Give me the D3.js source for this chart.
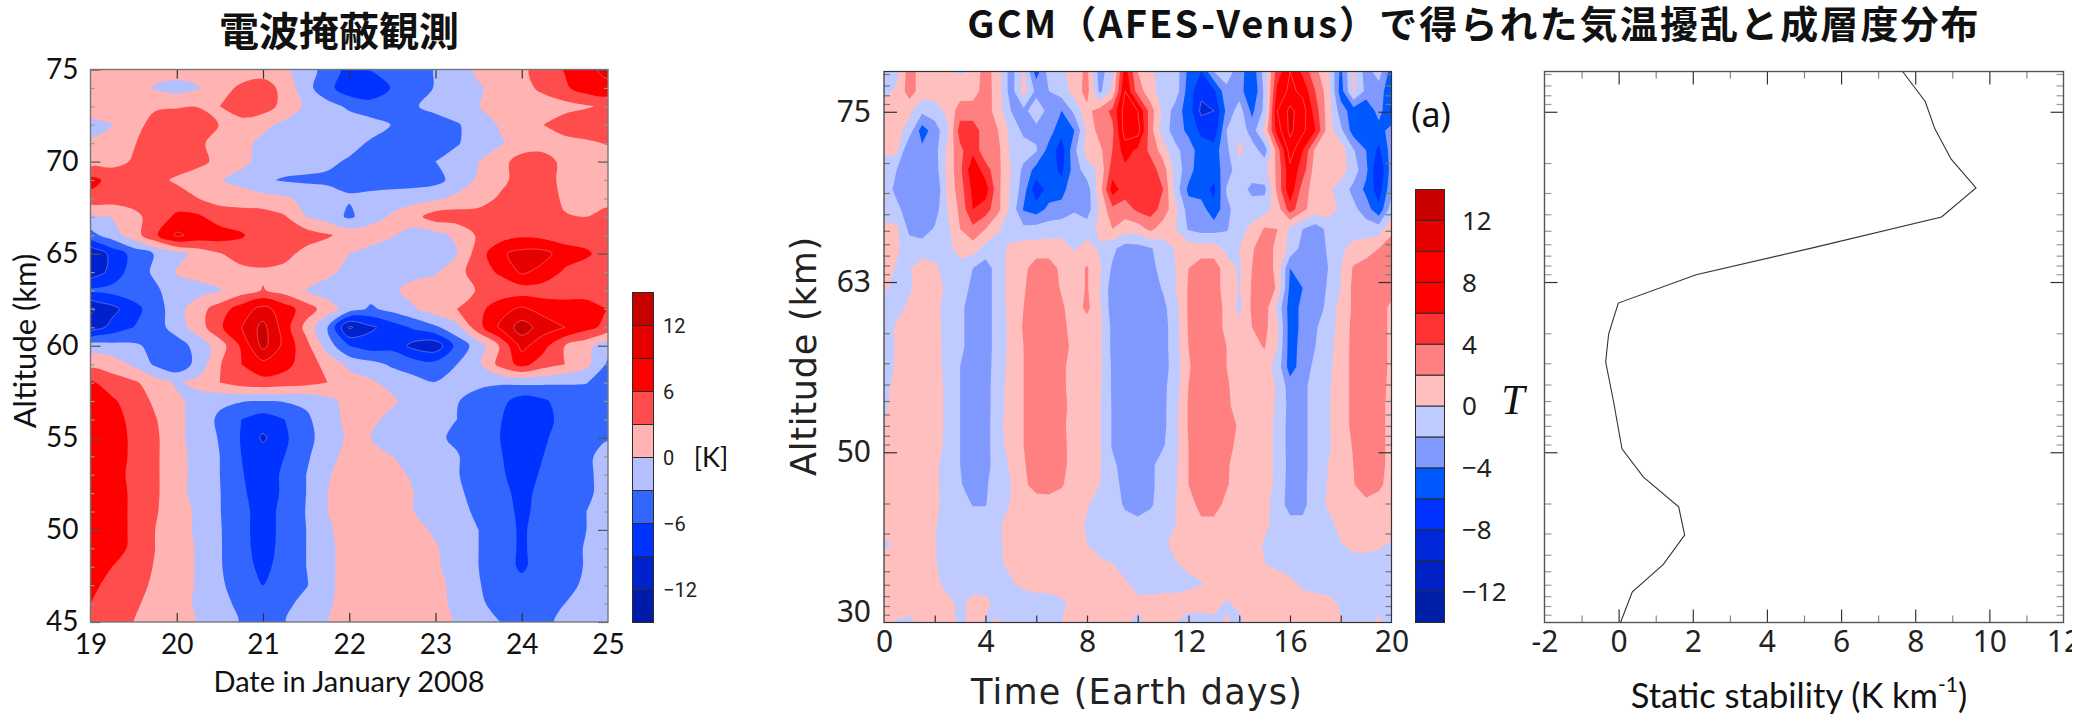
<!DOCTYPE html>
<html>
<head>
<meta charset="utf-8">
<title>Venus temperature disturbance</title>
<script src="https://d3js.org/d3.v7.min.js"></script>
<style>
  html, body { margin: 0; padding: 0; background: #fff; }
  svg { display: block; }
</style>
</head>
<body>
<svg id="chart" width="2094" height="714"></svg>
<script>
// Radio occultation panel: temperature (K), one row per km from 75 down to 45, one column per 6 hours
const obsAltitudes = d3.range(75, 44, -1);
const obsDates = d3.range(19, 25.01, 0.25);
const obsGrid = [
  [1.5,1.5,1.5,1.5,1.5,1.5,1.5,1.5,1.5,0.5,-1.5,-4.5,-7,-5.8,-4.5,-3.8,-2.9,-1.5,0.6,1.5,2.5,4,6.2,8,10],
  [1.5,2,1.5,-0.3,-1.2,-0.2,2,3.5,4.5,2,-2,-5,-8,-8.5,-5.7,-4.5,-2.8,-1.5,-0.3,1,2,3.7,5.5,7.5,8],
  [1.5,1.5,2.5,2.7,2.8,2.9,3,4.5,4.5,2,-0.5,-2,-3.5,-4.5,-4.2,-3.3,-2,-1,0,1,1.5,1.5,2,2.7,3.6],
  [-1,0,2.2,3.8,4.5,4.5,2.9,2,0.8,-0.7,-1.5,-1.5,-1.5,-2,-3.1,-4.5,-4.5,-3.3,-1.5,0.3,1.5,3,4.5,5,5],
  [0.3,1.5,2.8,4.5,4.8,3.5,2,1,-0.8,-1.5,-1.5,-1.5,-2.2,-3.3,-4.5,-5,-5,-3.2,-1.8,-0.3,1,1.5,2,2.5,3.2],
  [1.5,2,3.3,4.5,4.8,4,2,0.7,-1,-1.5,-1.8,-2.5,-3.3,-4.5,-4.5,-4.5,-3,-2,0,1.8,4.5,4.5,2,1.5,1.5],
  [7,5,4.5,4,2.5,1,0.2,-1,-2.5,-3.3,-3.5,-3.5,-3.5,-4.5,-4.5,-4.5,-4,-1.8,0.5,2,4.5,4.5,2,1.5,1.5],
  [5,4.5,4.5,4.5,4.5,3,2,1.5,1,0.5,-0.8,-1.8,-2.8,-2,-1.5,-1,-0.5,0.8,1.5,3.5,4.5,4.5,2.5,2,2],
  [-1,0,2,4.5,6.5,6.5,4.5,4.5,4.5,3.3,0,-1.5,-3.5,-1.5,0.5,2,4.5,4.5,4.5,4.5,4,3.5,3.2,3,4],
  [-4,-1.5,1.5,5.5,9.5,8,7.5,6.3,4.5,4.5,4.5,3.3,2,2,0.2,-1.5,-1,0.7,3.5,4.5,5.5,5,4.5,4.5,4.5],
  [-12,-8,-5,-2.8,-1,1,2.8,4.5,4.5,4,2,1.5,0,-1.5,-1.5,-1.5,-1,0,4.5,8.5,10,10,7.5,6.5,4.5],
  [-11,-8,-4.5,-2.5,0.3,1.2,1.5,2,2.5,2,1.5,0.7,-1,-1.5,-1,-0.8,-0.3,2,4.5,6.5,9.5,8,5.5,4.5,4],
  [-5.5,-5,-4.5,-3.5,-1.5,-1.2,-0.2,1.5,3.2,1.8,0,-1.5,-2.5,-1.5,-0.5,1,1.5,2,3.2,4,4.5,4.5,4.5,4.5,4.5],
  [-12.5,-10,-7,-4.5,-1.2,1.8,4.5,7.5,10,7.5,4.5,1.5,-1.5,-3.5,-2,-0.3,1.5,3,5,8,9.5,8,7.5,7.5,6],
  [-11,-8,-6,-4.5,-1.5,1.5,5.5,9,13,7.5,2,-3,-12.5,-9.5,-7.5,-5.5,-3.5,-1,5,9.5,13.5,10.5,9,7,5],
  [-1.5,-2,-2.5,-3.8,-4.5,-1.8,1.5,6.5,13,8,4,-1.5,-6,-7.5,-7,-10,-11,-5,-1.5,3.3,10,7,3,1,-2],
  [2,1.5,-0.5,-3.5,-5,-2,2.8,6,8,7,4.5,2,-0.8,-2,-3.5,-4.5,-5,-3,-0.5,4,7,4.5,3,0.8,-3.5],
  [6.5,4.5,3.5,1.5,-0.5,1,3,4.5,5,4.5,4,3,1.5,0.5,-1,-2,-2.9,-2,-2.2,-2.7,-2.3,-2.5,-2.8,-2.9,-4.5],
  [7.5,6.5,4.5,2.5,0.8,-1.5,-2.5,-2.8,-3,-2.8,-2.5,-0.8,1,1.5,0.5,-1.5,-2,-2.8,-4.5,-5,-7.5,-6.5,-4.5,-4.5,-4.5],
  [7.5,7,5.3,3.2,1,-1.5,-3.5,-6,-7.5,-6,-3.5,-1.5,1,0.8,-1,-2,-2.5,-3,-4.5,-5.8,-8,-7.5,-4.5,-4.5,-3.3],
  [7.5,7,5.6,3.5,1,-1.5,-3.2,-6.2,-9.5,-6.5,-4,-1.5,0.5,0,-1.5,-2,-2.5,-3.5,-5,-6,-8,-6.5,-4.5,-4.5,-3.2],
  [7.5,7,5.6,3.5,1,-1,-3,-6,-7.5,-6,-3.5,-1,1,1,0,-1.5,-2,-2.8,-4.5,-5.8,-7.5,-6,-4.5,-3.5,-2],
  [7.5,7,5.4,3.5,1,-1,-3,-5.8,-7.5,-5.5,-3,-0.2,1,1.5,1,-0.5,-2,-2.8,-4.5,-5.5,-7.5,-5.5,-4.5,-3.5,-2],
  [7.5,7,5.6,3.5,1,-1,-2.9,-5.5,-7.5,-5.5,-3,0,1.5,1.5,1,0,-1.5,-2.5,-4,-5,-7,-5,-4.5,-3.5,-2],
  [7.5,7,5.6,3.3,1.2,-0.5,-2.9,-5,-7.5,-5,-2.9,0,1.5,1.5,1.5,0,-1.5,-2.2,-3.5,-4.5,-6.8,-4.8,-4.5,-3,-1.5],
  [7.5,7,5.6,3,1.2,-0.5,-2.8,-5,-7.5,-5,-3,-0.5,1.5,1.5,1.5,1,-0.5,-2,-3,-4.5,-6.5,-4.5,-4,-3,-1.5],
  [7.5,7,5.5,3,1.2,-0.3,-2.8,-4.8,-7.5,-4.8,-3,-0.8,1.5,1.5,1.5,1.5,0.3,-1.5,-3,-4.5,-6.5,-4.5,-4,-2.8,-1.5],
  [7.5,6,4.5,2.8,1.2,-0.3,-2.8,-4.5,-7,-4.5,-3,-0.8,1.5,1.5,1.5,1.5,0.5,-1.5,-3,-4.5,-6.5,-4.5,-4,-2.8,-1.5],
  [6.8,5,4,2.5,1.2,-0.3,-2.5,-4.5,-6,-4.5,-3.2,-0.8,1.5,1.5,1.5,1.5,1,-1,-2.8,-4.5,-5,-4.5,-3.8,-2.5,-1.5],
  [6,4.5,3.5,2,1.2,-0.5,-2,-3.8,-4.8,-3.8,-2,-0.5,1.5,1.5,1.5,1.5,1,-0.8,-2.5,-4,-4.5,-4,-3,-2,-1.5],
  [5,4.5,3,2,1.2,-0.2,-1.8,-3.2,-4.5,-3.1,-1.5,-0.1,1.5,1.5,1.5,1.5,1,-0.3,-2,-3,-4.5,-3.5,-2.5,-1.5,-1.5]
];
const obsLevels = d3.range(-15, 15.01, 3);
const obsColors = ['#001aaa','#0022cc','#0033ff','#3366ff','#b3bfff','#ffb3b3','#ff4d4d','#ff0000','#e60000','#c80000'];
const obsColorLabels = [-12, -6, 0, 6, 12];

// GCM panel: temperature (K), columns every half day, rows evenly spaced on the log-pressure axis
const gcmDays = d3.range(0, 20.01, 0.5);
const gcmGrid = [
  [-1,-0.5,3,1,1.2,0.5,-0.3,0.5,3,0.8,-3,0.5,-5,-1,-0.5,1,2.5,-3,-0.5,7,2,0.5,-1,-1,-4.5,-6,-2,-1,-3,-5.5,-1,5,8,5.5,2.5,0.5,-4.5,0.5,-3,-1,-5],
  [-0.5,0.3,3,1,1,1,1,1,3,1,-3,0.8,-2.5,-2,-1,0.8,2.8,-2.5,0.5,8,3,0.8,-1,-1,-5,-7.5,-6.5,-2.5,-3,-6,-1.5,6.5,8.5,7.5,4,1,-5,0.3,-2.5,-3,-5.5],
  [1,1.2,0.5,-1.5,-1,0.5,3,3,3,1,-2,-2.5,-1,-2.5,-4,-1.5,1.5,2.8,4.5,9,8,3,-0.5,-3,-5,-8.5,-8,-3.5,-1,-4.5,-1.5,8,10.5,9,5,1,-3,-5,-6,-3,-6.5],
  [1,0.8,-1,-5,-3,-0.5,5,5,3,2,-0.5,-2.5,-2.5,-3,-5.5,-4,0.5,2.8,3.5,9,9,2.8,-1,-3,-4.5,-6.5,-7.5,-2,-0.5,-3,0.5,7,10.5,8.5,6,1,-1.5,-5,-5,-5,-3],
  [0.5,0.5,-4,-3.5,-2.8,0.5,3.5,5.5,2.5,2.5,-0.5,-1,-1.8,-4.8,-7,-2.5,0.8,1.5,4,7,5.5,3.5,1,-1.5,-3,-5,-5,-2.5,0.5,-1,-3,3,9,6,1.5,1.5,1,-1.8,-4,-6.5,-3],
  [-1,-2,-3,-3,-3,0.5,3.5,7.5,5,2.5,0,-2.5,-4.8,-5,-6.5,-3,-1,0.5,5,5.5,5,5,3,-1,-3,-5.5,-5,-3,-0.8,-1,-0.5,2.5,7.5,5,1,1.5,1,-1,-3.5,-8,-3],
  [-1,-2.5,-3,-3.2,-4,0.5,3,6.5,7,2.5,-0.3,-3,-7.5,-5,-5,-2,-3,1,7,5,5,5.5,4,-1,-4.5,-5,-6.5,-1.8,-1,-2.5,-2.5,2.5,7.5,3,1,0.5,-1,-2.5,-4.5,-7,-2.5],
  [-1,-1.5,-3,-3,-3,0,2.5,6,5,2.5,-0.5,-4.2,-5,-3.5,-3,-2.2,-3,0.3,3.5,3,4.5,5,3.2,0.5,-3,-3,-5.5,-2.5,-1,-1,-0.8,1,5,2.5,1,1.2,-0.5,-1.5,-3,-5.5,-1],
  [0.5,0.5,-2.5,-3,-1.8,-0.5,2,3.5,2,0.2,-1,-1.5,-1.2,-1,-1,-1,-1,0.5,2,1,1,2.5,1,0,-2.2,-2.8,-2.8,-2.2,-0.7,0.5,2.2,2,-0.5,-2,-3,-1.5,-1,-1,-1,-1,1.5],
  [0.5,0.3,-1,-1,-1,-0.8,1,1,-0.8,-0.7,0.5,1,1,1,1,-0.2,0.8,-0.3,-1.5,-3,-2.8,-2.2,-1,0.2,1,1,1,-0.5,0,1.8,3,1.5,-0.5,-2.8,-3,-1.8,-0.5,0.8,1,2,3],
  [1,-0.2,-0.2,1,0.5,-1,-1,-2,-3,-1,0.8,1.5,3,3,1.5,1,2.2,0.3,-2.3,-3,-3,-2.8,-1,0,2,3,3,1,-0.3,2,3,1.5,-4,-3.5,-3,-2,0,2.2,3,3,3],
  [0.5,-1,-0.3,1,1,-0.5,-1,-2.5,-3,-1,0.8,1.8,3,3,1.8,1,2.2,0,-3,-3,-3,-3,-1.8,0,2.2,3,3,1,-0.1,2.2,3,1.8,-4.5,-4,-3,-1.8,0,2.5,3,3,3],
  [-1,-0.8,0.5,1,0.8,-1,-1.5,-3,-3,-1,0.7,2,3,3,2.3,1,2.5,0.3,-3,-3,-3,-3,-2.5,-0.7,2.3,3,3,1.5,-0.5,2.3,3,-0.5,-5,-3.5,-3,-1.5,0.8,2.3,3,3,1.5],
  [-1,0.3,1,1,1,-1,-1.5,-3,-3,-1,0.5,2.2,3,3,2.7,1,1,0.5,-2.5,-3,-3,-3,-2.8,-0.8,2.2,3,3,1.5,0.5,2,2.5,0.5,-5,-3.5,-2.2,-1,0.8,2.5,3,3,1.5],
  [-1,0.2,1,1,1,-1,-1.5,-3,-3,-1,0.5,2,3,3,2.7,1.5,1,0.3,-2.5,-3,-3,-3,-2.8,-0.8,2,3,3,2,1,1.5,2.1,0,-5,-3.2,-2,-0.7,1,2.5,3,3,1.5],
  [-1,0.3,1,1,1,-0.8,-2,-3,-3,-0.8,0.5,2,3,3,2.5,1,0.8,0.5,-2.3,-3,-3,-3,-2.8,-1,1.8,3,3,2,1,1,1,-0.8,-5,-3,-1.5,-0.5,1,2.5,3,3,1.5],
  [-0.5,0.5,1,1,1,-0.5,-2,-3,-3,-0.5,0.5,2,3,3,2.5,1,0.8,0.3,-2.3,-3,-3,-3,-2.5,-0.8,2,3,3,2.3,1,1,1,-0.2,-3,-2.5,-1.2,-0.3,1,2.5,3,3,1.3],
  [-0.3,0.8,1,1,1,-0.5,-2,-3,-3,-0.5,0.5,2,3,3,2.8,1,0.8,0.2,-2.2,-3,-3,-3,-2.5,-0.5,2.2,3,3,2.5,1,1,1,-0.3,-2.7,-2.5,-1.2,-0.2,1,2.5,3,3,1],
  [0,1,1,1,1,-0.5,-2,-3,-3,-0.3,0.5,2,3,3,2.5,1,0.8,0.2,-2.2,-3,-3,-3,-2.5,-0.5,2.2,3,3,2.7,1.8,1,1,-0.5,-2.8,-2.5,-1.2,-0.2,1,2.5,3,3,1],
  [0,1,1,1,0.8,-0.5,-2,-3,-3,-0.3,0.3,2,3,3,2.7,1,0.8,0.2,-2.2,-3,-3,-3,-2.2,-0.5,2,3,3,2.6,1.5,1,1,-0.5,-2.8,-2.5,-1.2,-0.2,0.7,2.2,3,3,1],
  [0.5,1,1,1,0.5,-1,-2,-3,-2.8,-0.8,0.2,1.8,3,3,2.7,1,0.8,0.2,-1.5,-3,-3,-2.5,-1,-0.3,2,3,3,2.3,1,1,1,-0.5,-2.7,-2.5,-1.2,0,0.5,2,3,3,1],
  [1,1,1,1,0.5,-1,-1.8,-3,-2.3,-0.8,0,1.6,2.8,3,2.2,1,0.8,0,-1,-2.8,-3,-2.5,-1,-0.2,2,3,3,2.2,1,1,1,-0.6,-2.8,-2.5,-1,0.1,0.5,1.9,3,2.5,1],
  [1,1,1,1,0.5,-0.8,-1.2,-2.1,-2.1,-0.8,0.1,1,1,1,1,1,0.2,-1,-1.3,-2.2,-2.8,-2.3,-1,0,1,2.8,2.8,1.5,1,1,0.8,-1.2,-2.6,-2.6,-0.8,0.2,1,1.2,1.5,1,0.8],
  [1,1,1,1,0.2,-1,-1,-1,-1,-0.2,0.5,1,1,1,1,0.7,-0.2,-1,-1,-1.5,-1.5,-1,-0.5,0,1,1.5,1.5,1,1,1,0.5,-0.8,-1.5,-1.5,-1,-0.5,0.5,1,1,1,1],
  [-0.3,0.2,1,1,0.1,-1,-1,-1,-1,-0.2,0.5,1,1,1,1,1,0,-1,-1,-1.5,-1.2,-1,-0.3,0.5,1,1,1,1,1,0.8,-0.2,-1,-1.2,-1.2,-1,-0.5,-0.1,0.8,0.8,0.4,-0.2],
  [0.5,1,1,1,0.2,-1,-1,-1,-1,-0.3,0.4,1,1,1,1,1,0.8,0.5,0,-1,-1,-1,-0.5,-0.1,0.5,1,1,1,1,0.5,0,-0.5,-1,-1,-1,-1,-1,-1,-1,-1,-0.5],
  [1,1,1,1,0.5,-0.7,-1,-1,-1,-1,-0.2,0.5,1,1,1,1,1,1,1,0.3,-0.8,-1,-1,-1,-0.5,-0.1,0.5,1,1,1,1,1,0.5,-0.5,-1,-1,-1,-1,-1,-1,-1],
  [1,1,1,1,1,0.6,-0.5,0.7,0.6,-0.8,-1,-1,-1,-1,-0.3,0.5,1,1,1,0.8,0.5,0.7,1,1,1,1,0.8,-0.2,0.5,1,1,1,1,1,1,0.6,-0.3,-1,-1,-1,-1],
  [0.5,-0.2,-0.5,0.5,1,1,-0.5,0.5,-0.2,0.3,-1,-1,-1,-1,0,0.7,1,1,1,0.3,-0.5,0.5,0.8,0,-1,-1,-0.5,0.2,-0.5,1,1,1,1,1,1,1,0.2,-1,-0.5,0.5,-1]
];
const gcmLevels = d3.range(-14, 14.01, 2);
const gcmColors = ['#001fa8','#0022c4','#0028d9','#0033ff','#0059ff','#8099ff','#bfcbff','#ffbfbf','#ff8080','#ff3333','#ff0000','#ff0000','#e60000','#c80000'];
const gcmColorLabels = [-12, -8, -4, 0, 4, 8, 12];

// shared log-pressure style axis of the two right panels
const gcmTickValues = [1, 10, 100, 1000];
const gcmTickLabels = ['75', '63', '50', '30'];
const gcmMinorTicks = [0.6, 0.7, 0.8, 0.9, 2, 3, 4, 5, 6, 7, 8, 9, 20, 30, 40, 50, 60, 70, 80, 90, 200, 300, 400, 500, 600, 700, 800, 900];

// Static stability profile
const stabilityLevels = [0.58, 0.87, 1.26, 1.9, 2.8, 4.15, 6.3, 9.06, 13.3, 20.2, 29.5, 50, 95.5, 140, 209, 307, 457, 660, 1000];
const stabilityValues = [7.66, 8.27, 8.53, 8.97, 9.64, 8.71, 5.23, 2.09, -0.01, -0.27, -0.35, -0.14, 0.09, 0.67, 1.62, 1.78, 1.2, 0.37, 0.05];

const svg = d3.select('#chart');
const defs = svg.append('defs');

const sansObs = 'Lato, Carlito, sans-serif';
const sansGcm = '"Noto Sans", "DejaVu Sans", sans-serif';
const wideGcm = '"DejaVu Sans", sans-serif';
const titleFont = '"Noto Sans CJK JP", sans-serif';

// Draw the filled contour bands of one grid. colValue and rowValue turn a fractional grid index into data units.
function drawBands(g, grid, levels, colors, colValue, rowValue, xScale, yScale, id, lineFrom, smooth) {
  const rows = grid.length;
  const cols = grid[0].length;
  const [x0, x1] = xScale.range();
  const [y0, y1] = yScale.range();

  defs.append('clipPath').attr('id', id)
    .append('rect').attr('x', x0).attr('y', y0).attr('width', x1 - x0).attr('height', y1 - y0);

  const inner = g.append('g').attr('clip-path', `url(#${id})`);

  inner.append('rect')
    .attr('x', x0).attr('y', y0).attr('width', x1 - x0).attr('height', y1 - y0)
    .attr('fill', colors[0]);

  const contours = d3.contours().size([cols, rows]).thresholds(levels.slice(1, -1));
  const toPixel = ([px, py]) => [xScale(colValue(px - 0.5)), yScale(rowValue(py - 0.5))];
  const ringLine = d3.line().curve(smooth ? d3.curveCatmullRomClosed.alpha(0.5) : d3.curveLinearClosed);

  inner.selectAll('path.band')
    .data(contours(grid.flat()))
    .enter().append('path')
    .attr('class', 'band')
    .attr('d', d => d.coordinates
      .map(polygon => polygon.map(ring => ringLine(ring.slice(0, -1).map(toPixel))).join(''))
      .join(''))
    .attr('fill', (d, i) => colors[i + 1])
    .attr('stroke', d => Math.abs(d.value) >= lineFrom ? 'rgba(255,215,215,0.55)' : 'none')
    .attr('stroke-width', 0.6);
}

function tickAxis(g, axisFn, scale, values, len, color) {
  const axis = axisFn(scale).tickValues(values).tickSize(-len).tickFormat('');
  const a = g.append('g').call(axis);
  a.select('.domain').remove();
  a.selectAll('line').attr('stroke', color).attr('stroke-width', 1.2);
  return a;
}

function labelAxis(g, axisFn, scale, values, labels, padding, font, size, color) {
  const axis = axisFn(scale).tickValues(values).tickSize(0).tickPadding(padding)
    .tickFormat((d, i) => labels[i]);
  const a = g.append('g').call(axis);
  a.select('.domain').remove();
  a.selectAll('text').attr('font-family', font).attr('font-size', size).attr('fill', color);
  return a;
}

function frame(g, xScale, yScale, color, width) {
  const [x0, x1] = xScale.range();
  const [y0, y1] = yScale.range();
  g.append('rect').attr('x', x0).attr('y', y0).attr('width', x1 - x0).attr('height', y1 - y0)
    .attr('fill', 'none').attr('stroke', color).attr('stroke-width', width);
}

function colorBar(g, levels, colors, labels, left, right, top, bottom, font, size, labelX) {
  const y = d3.scaleLinear().domain([levels[0], levels[levels.length - 1]]).range([bottom, top]);
  g.selectAll('rect.swatch')
    .data(colors)
    .enter().append('rect')
    .attr('class', 'swatch')
    .attr('x', left)
    .attr('width', right - left)
    .attr('y', (d, i) => y(levels[i + 1]))
    .attr('height', (d, i) => y(levels[i]) - y(levels[i + 1]))
    .attr('fill', d => d)
    .attr('stroke', '#2c2c2c')
    .attr('stroke-width', 1);

  g.selectAll('text.barlabel')
    .data(labels)
    .enter().append('text')
    .attr('class', 'barlabel')
    .attr('x', labelX)
    .attr('y', d => y(d))
    .attr('dy', '0.36em')
    .attr('font-family', font)
    .attr('font-size', size)
    .attr('fill', '#222')
    .text(d => (d < 0 ? '\u2212' + Math.abs(d) : d));
}

function addText(str, x, y, font, size, opts) {
  const o = opts || {};
  const t = svg.append('text')
    .attr('x', x).attr('y', y)
    .attr('text-anchor', o.anchor || 'middle')
    .attr('dominant-baseline', 'central')
    .attr('font-family', font)
    .attr('font-size', size)
    .attr('font-weight', o.weight || 'normal')
    .attr('font-style', o.style || 'normal')
    .attr('letter-spacing', o.spacing || 0)
    .attr('fill', o.color || '#111')
    .text(str);
  if (o.rotate) t.attr('transform', `rotate(${o.rotate} ${x} ${y})`);
  return t;
}

// --- left panel ---
function drawObsPanel() {
  const g = svg.append('g');
  const x = d3.scaleLinear().domain([19, 25]).range([90.5, 608]);
  const y = d3.scaleLinear().domain([75, 45]).range([69.5, 622]);

  drawBands(g, obsGrid, obsLevels, obsColors,
    c => 19 + c * (obsDates[1] - obsDates[0]),
    r => 75 + r * (obsAltitudes[1] - obsAltitudes[0]),
    x, y, 'clip-obs', 9, true);

  const dates = [19, 20, 21, 22, 23, 24, 25];
  const majors = [45, 50, 55, 60, 65, 70, 75];
  const minors = obsAltitudes.filter(a => a % 5 !== 0);

  tickAxis(g, d3.axisBottom, x, dates.slice(1, -1), 9, '#333').attr('transform', 'translate(0,622)');
  tickAxis(g, d3.axisTop, x, dates.slice(1, -1), 9, '#333').attr('transform', 'translate(0,69.5)');
  tickAxis(g, d3.axisLeft, y, majors, 10, '#555').attr('transform', 'translate(90.5,0)');
  tickAxis(g, d3.axisRight, y, majors, 10, '#555').attr('transform', 'translate(608,0)');
  tickAxis(g, d3.axisLeft, y, minors, 4, '#999').attr('transform', 'translate(90.5,0)');
  tickAxis(g, d3.axisRight, y, minors, 4, '#999').attr('transform', 'translate(608,0)');
  frame(g, x, y, '#777', 1.4);

  labelAxis(g, d3.axisLeft, y, majors, majors, 12, sansObs, 28, '#111').attr('transform', 'translate(90.5,0)');
  labelAxis(g, d3.axisBottom, x, dates, dates, 12, sansObs, 28, '#111').attr('transform', 'translate(0,622)');

  colorBar(g, obsLevels, obsColors, obsColorLabels, 632.5, 653.5, 292.5, 622.5, 'Roboto, sans-serif', 20, 663);

  addText('\u96FB\u6CE2\u63A9\u853D\u89B3\u6E2C', 339, 29, titleFont, 40, { weight: 700 });
  addText('Altitude (km)', 24, 341, sansObs, 31, { rotate: -90 });
  addText('Date in January 2008', 349, 680, sansObs, 29);
  addText('[K]', 711, 456, sansObs, 27);
}

// --- middle panel ---
function drawGcmPanel() {
  const g = svg.append('g');
  const x = d3.scaleLinear().domain([0, 20]).range([884, 1391.5]);
  const y = d3.scaleLog().domain([0.58, 1000]).range([71.5, 622.5]);
  const rowCount = gcmGrid.length;

  drawBands(g, gcmGrid, gcmLevels, gcmColors,
    c => c * (gcmDays[1] - gcmDays[0]),
    r => 0.58 * Math.pow(1000 / 0.58, r / (rowCount - 1)),
    x, y, 'clip-gcm', 8, false);

  const days = [0, 4, 8, 12, 16, 20];
  const dayTicks = [2, 4, 6, 8, 10, 12, 14, 16, 18];

  tickAxis(g, d3.axisBottom, x, dayTicks, 7, '#333').attr('transform', 'translate(0,622.5)');
  tickAxis(g, d3.axisLeft, y, gcmTickValues.slice(0, 3), 13, '#333').attr('transform', 'translate(884,0)');
  tickAxis(g, d3.axisRight, y, gcmTickValues.slice(0, 3), 13, '#333').attr('transform', 'translate(1391.5,0)');
  tickAxis(g, d3.axisLeft, y, gcmMinorTicks, 6, '#777').attr('transform', 'translate(884,0)');
  tickAxis(g, d3.axisRight, y, gcmMinorTicks, 6, '#777').attr('transform', 'translate(1391.5,0)');
  frame(g, x, y, '#333', 1.2);

  const yLabels = labelAxis(g, d3.axisLeft, y, gcmTickValues, gcmTickLabels, 13, sansGcm, 30, '#222')
    .attr('transform', 'translate(884,0)');
  yLabels.selectAll('text').filter(d => d === 1000).attr('dy', '-0.05em');
  labelAxis(g, d3.axisBottom, x, days, days, 8, sansGcm, 30, '#222').attr('transform', 'translate(0,622.5)');

  colorBar(g, gcmLevels, gcmColors, gcmColorLabels, 1415.5, 1444.5, 189.5, 622.5, sansGcm, 26, 1462);

  addText('GCM\uFF08AFES-Venus\uFF09\u3067\u5F97\u3089\u308C\u305F\u6C17\u6E29\u64FE\u4E71\u3068\u6210\u5C64\u5EA6\u5206\u5E03', 1474, 21, titleFont, 38, { weight: 700, spacing: 2.1 });
  addText('Altitude (km)', 804, 356, wideGcm, 35, { rotate: -90, spacing: 0.8, color: '#222' });
  addText('Time (Earth days)', 1137, 692, wideGcm, 35, { spacing: 1.2, color: '#222' });
  addText('(a)', 1431, 114, sansGcm, 34);
  addText('T', 1513, 400, '"Liberation Serif", serif', 42, { style: 'italic' });
}

// --- right panel ---
function drawStabilityPanel() {
  const g = svg.append('g');
  const x = d3.scaleLinear().domain([-2, 12]).range([1544.5, 2063.5]);
  const y = d3.scaleLog().domain([0.58, 1000]).range([71.5, 622.5]);

  const twos = [0, 2, 4, 6, 8, 10];
  const ones = [-1, 1, 3, 5, 7, 9, 11];

  tickAxis(g, d3.axisBottom, x, twos, 13, '#333').attr('transform', 'translate(0,622.5)');
  tickAxis(g, d3.axisTop, x, twos, 13, '#333').attr('transform', 'translate(0,71.5)');
  tickAxis(g, d3.axisBottom, x, ones, 7, '#888').attr('transform', 'translate(0,622.5)');
  tickAxis(g, d3.axisTop, x, ones, 7, '#888').attr('transform', 'translate(0,71.5)');
  tickAxis(g, d3.axisLeft, y, gcmTickValues.slice(0, 3), 13, '#333').attr('transform', 'translate(1544.5,0)');
  tickAxis(g, d3.axisRight, y, gcmTickValues.slice(0, 3), 13, '#333').attr('transform', 'translate(2063.5,0)');
  tickAxis(g, d3.axisLeft, y, gcmMinorTicks, 7, '#999').attr('transform', 'translate(1544.5,0)');
  tickAxis(g, d3.axisRight, y, gcmMinorTicks, 7, '#999').attr('transform', 'translate(2063.5,0)');
  frame(g, x, y, '#555', 1.4);

  const line = d3.line().x(d => x(d)).y((d, i) => y(stabilityLevels[i]));
  g.append('path')
    .attr('d', line(stabilityValues))
    .attr('fill', 'none')
    .attr('stroke', '#333')
    .attr('stroke-width', 1.1);

  // the source image cuts the last tick label off at its right side
  defs.append('clipPath').attr('id', 'clip-label')
    .append('rect').attr('x', 1500).attr('y', 0).attr('width', 572).attr('height', 60);
  const xVals = [-2, 0, 2, 4, 6, 8, 10, 12];
  labelAxis(g, d3.axisBottom, x, xVals, xVals, 8, sansGcm, 30, '#222')
    .attr('transform', 'translate(0,622.5)')
    .attr('clip-path', 'url(#clip-label)');

  const label = addText('Static stability (K km', 1799, 694, sansObs, 34.5);
  label.append('tspan').attr('font-size', 21).attr('dy', -11).text('-1');
  label.append('tspan').attr('dy', 11).text(')');
}

drawObsPanel();
drawGcmPanel();
drawStabilityPanel();
</script>
</body>
</html>
